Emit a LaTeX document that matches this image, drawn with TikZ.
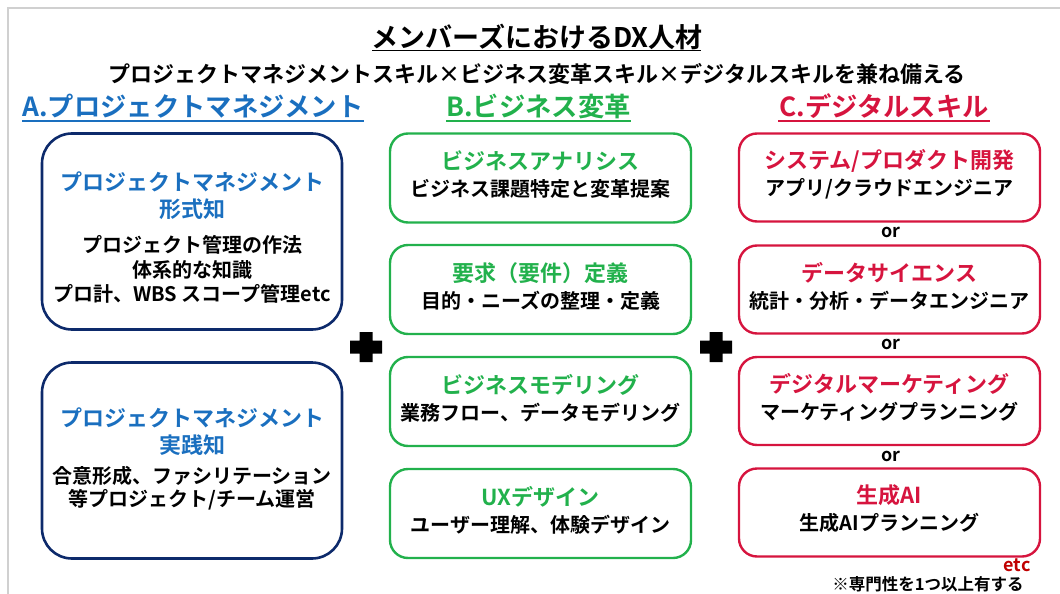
\documentclass[tikz,border=0pt]{standalone}
\usepackage{fontspec}
\setmainfont{Noto Sans CJK JP}[BoldFont={Noto Sans CJK JP Bold}]
\definecolor{pmblue}{HTML}{1A6FBF}
\definecolor{navy}{HTML}{0D2A6B}
\definecolor{bgreen}{HTML}{22B14C}
\definecolor{cred}{HTML}{D6143E}
\definecolor{darkred}{HTML}{C00000}
\definecolor{framegray}{HTML}{D0D0D0}
\tikzset{
  txt/.style={inner sep=0pt, font=\bfseries\fontsize{20}{24}\selectfont, text=black},
  ttl/.style={inner sep=0pt, font=\bfseries\fontsize{22}{26}\selectfont},
  hdr/.style={inner sep=0pt, font=\bfseries\fontsize{26.3}{30}\selectfont},
  pmbox/.style={draw=navy, line width=2.6pt, rounded corners=30pt, minimum width=300pt, minimum height=196pt, inner sep=0pt},
  bbox/.style={draw=bgreen, line width=2.4pt, rounded corners=18pt, minimum width=301pt, minimum height=89pt, inner sep=0pt},
  cbox/.style={draw=cred, line width=2.4pt, rounded corners=18pt, minimum width=301pt, minimum height=88pt, inner sep=0pt},
  orlbl/.style={inner sep=0pt, font=\bfseries\fontsize{18}{22}\selectfont},
  plus/.style={fill=black}
}
\begin{document}
\begin{tikzpicture}[x=1pt,y=-1pt]
\useasboundingbox (0,0) rectangle (1060,594);
% frame
\draw[framegray, line width=2pt] (8,594) -- (8,8) -- (1060,8);
% title
\node[inner sep=0pt, font=\bfseries\fontsize{27}{32}\selectfont] (title) at (537,37) {メンバーズにおけるDX人材};
\draw[line width=1.6pt] (372,50.5) -- (701,50.5);
\node[inner sep=0pt, font=\bfseries\fontsize{22}{26}\selectfont] (sub) at (537,74) {プロジェクトマネジメントスキル×ビジネス変革スキル×デジタルスキルを兼ね備える};
% headers
\node[hdr, text=pmblue] (hA) at (193,106) {A.プロジェクトマネジメント};
\draw[pmblue, line width=1.6pt] (22,121) -- (364,121);
\node[hdr, text=bgreen] (hB) at (538.5,106) {B.ビジネス変革};
\draw[bgreen, line width=1.6pt] (446,121) -- (631,121);
\node[hdr, text=cred] (hC) at (884,106) {C.デジタルスキル};
\draw[cred, line width=1.6pt] (778,121) -- (990,121);
% left boxes
\node[pmbox] (a1) at (192,231.5) {};
\node[ttl, text=pmblue] (a1t1) at (192,182) {プロジェクトマネジメント};
\node[ttl, text=pmblue] (a1t2) at (192,209) {形式知};
\node[txt] (a1s1) at (192,245) {プロジェクト管理の作法};
\node[txt] (a1s2) at (192,270) {体系的な知識};
\node[txt] (a1s3) at (192,294) {プロ計、WBS スコープ管理etc};
\node[pmbox] (a2) at (192,460.5) {};
\node[ttl, text=pmblue] (a2t1) at (192,418) {プロジェクトマネジメント};
\node[ttl, text=pmblue] (a2t2) at (192,445) {実践知};
\node[txt] (a2s1) at (192,476) {合意形成、ファシリテーション};
\node[txt] (a2s2) at (192,500) {等プロジェクト/チーム運営};
% middle boxes
\node[bbox] (b1) at (540.5,178) {};
\node[ttl, text=bgreen] (b1t) at (540.5,161) {ビジネスアナリシス};
\node[txt] (b1s) at (540.5,189) {ビジネス課題特定と変革提案};
\node[bbox] (b2) at (540.5,289.5) {};
\node[ttl, text=bgreen] (b2t) at (540.5,273) {要求（要件）定義};
\node[txt] (b2s) at (540.5,301) {目的・ニーズの整理・定義};
\node[bbox] (b3) at (540.5,401.5) {};
\node[ttl, text=bgreen] (b3t) at (540.5,385) {ビジネスモデリング};
\node[txt] (b3s) at (540.5,413) {業務フロー、データモデリング};
\node[bbox] (b4) at (540.5,513.5) {};
\node[ttl, text=bgreen] (b4t) at (540.5,497) {UXデザイン};
\node[txt] (b4s) at (540.5,525) {ユーザー理解、体験デザイン};
% right boxes
\node[cbox] (c1) at (889.5,177.5) {};
\node[ttl, text=cred] (c1t) at (889.5,161) {システム/プロダクト開発};
\node[txt] (c1s) at (889.5,189) {アプリ/クラウドエンジニア};
\node[orlbl] (or1) at (891,232) {or};
\node[cbox] (c2) at (889.5,289.5) {};
\node[ttl, text=cred] (c2t) at (889.5,273) {データサイエンス};
\node[txt] (c2s) at (889.5,301) {統計・分析・データエンジニア};
\node[orlbl] (or2) at (891,344) {or};
\node[cbox] (c3) at (889.5,401) {};
\node[ttl, text=cred] (c3t) at (889.5,384) {デジタルマーケティング};
\node[txt] (c3s) at (889.5,412) {マーケティングプランニング};
\node[orlbl] (or3) at (891,456) {or};
\node[cbox] (c4) at (889.5,512.5) {};
\node[ttl, text=cred] (c4t) at (889.5,495) {生成AI};
\node[txt] (c4s) at (889.5,523) {生成AIプランニング};
\node[orlbl, text=darkred] (etc) at (1017,565) {etc};
\node[inner sep=0pt, font=\bfseries\fontsize{16.5}{20}\selectfont] (note) at (928,584) {※専門性を1つ以上有する};
% plus signs
\fill[plus] (359.5,332) -- (372.5,332) -- (372.5,340.5) -- (382,340.5) -- (382,353.5) -- (372.5,353.5) -- (372.5,362) -- (359.5,362) -- (359.5,353.5) -- (350,353.5) -- (350,340.5) -- (359.5,340.5) -- cycle;
\fill[plus] (709.5,332) -- (722.5,332) -- (722.5,340.5) -- (732,340.5) -- (732,353.5) -- (722.5,353.5) -- (722.5,362) -- (709.5,362) -- (709.5,353.5) -- (700,353.5) -- (700,340.5) -- (709.5,340.5) -- cycle;
\end{tikzpicture}
\end{document}
